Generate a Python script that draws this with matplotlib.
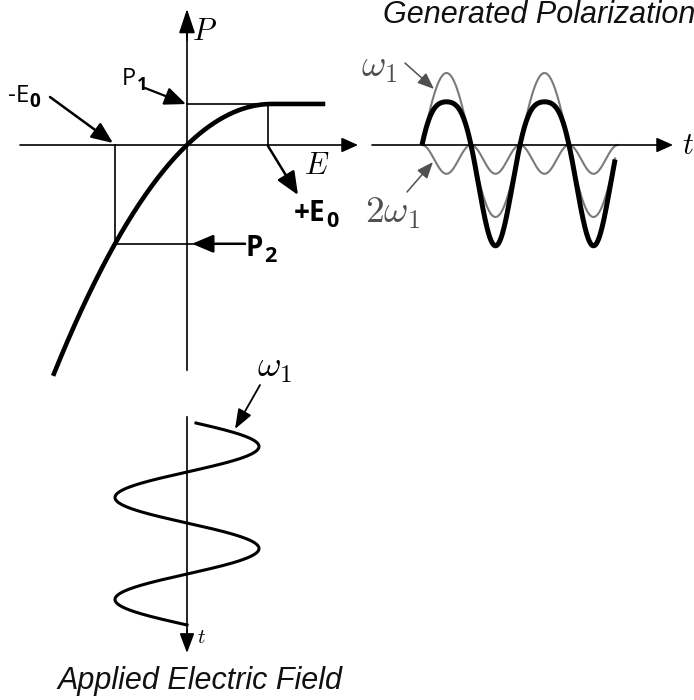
import numpy as np
import matplotlib
matplotlib.use("Agg")
import matplotlib.pyplot as plt

plt.rcParams["mathtext.fontset"] = "cm"

# ---- physics of the sketch (normalised units: 1 = field amplitude E0) ----
E0 = 1.0                      # applied field amplitude
E_NEG, E_POS = -1.0, 1.125    # field extremes marked on the transfer curve
E_SAT = 1.18                  # field where the polarisation saturates
P_SAT = 0.57                  # saturated polarisation
CURV = 0.4086                 # curvature of the P(E) response below saturation
E_RANGE = [-1.86, 1.92]       # span of the drawn transfer curve

W1_AMP = 1.0                  # first-harmonic component of P(t)
W2_DEPTH = 0.40               # depth of the second-harmonic (DC-shifted) component
PERIODS_THIN = 2.0            # periods drawn for the components
PERIODS_SUM = 1.97            # periods drawn for the total polarisation
FIELD_PHASE = [0.02, 2.0]     # start/end phase (in periods) of the applied field trace

# ---- layout (pixels) ----
UNIT = 72.0                   # pixels per normalised unit
ORIGIN = (187, 145)           # E-P origin
POL_ORIGIN = (422, 145)       # start of generated polarisation trace
POL_PERIOD = 98.0
FIELD_ORIGIN = (187, 421)     # applied field trace axis
FIELD_PERIOD = 102.0

fig = plt.figure(figsize=(6.94, 7.0), dpi=100)
ax = fig.add_axes([0, 0, 1, 1])
ax.set_xlim(0, 694)
ax.set_ylim(700, 0)
ax.axis("off")
renderer = fig.canvas.get_renderer()

ox, oy = ORIGIN


def px(e, p):
    return ox + e * UNIT, oy - p * UNIT


def response(e):
    e = np.asarray(e, dtype=float)
    return np.where(e < E_SAT, P_SAT - CURV * (e - E_SAT) ** 2, P_SAT)


def arrow(x0, y0, x1, y1, color="black", lw=1.8, hl=0.9, hw=0.45, ms=10):
    ax.annotate("", xy=(x1, y1), xytext=(x0, y0),
                arrowprops=dict(arrowstyle=f"-|>,head_length={hl},head_width={hw}",
                                color=color, lw=lw, mutation_scale=ms,
                                shrinkA=0, shrinkB=0))


def sub_label(x, y, main, sub, size, weight="normal", sub_weight="bold"):
    """Letter(s) with a subscript, baseline of the main part at (x, y) in pixels."""
    t = ax.text(x, y, main, family="Open Sans", fontsize=size, fontweight=weight,
                va="baseline", ha="left", color="black")
    bb = t.get_window_extent(renderer)
    x_end = ax.transData.inverted().transform((bb.x1, bb.y0))[0]
    ax.text(x_end + 0.5, y + size * 0.28, sub, family="Open Sans", fontsize=size * 0.78,
            fontweight=sub_weight, va="baseline", ha="left", color="black")


# ---- E-P transfer curve panel ----
arrow(20, oy, 358, oy, lw=1.2, hl=1.0, hw=0.45)
ax.plot([ox, ox], [370, 25], color="black", lw=1.2)
arrow(ox, 40, ox, 9, lw=1.2, hl=1.5, hw=0.5)

e = np.linspace(E_RANGE[0], E_RANGE[1], 400)
x, y = px(e, response(e))
ax.plot(x, y, color="black", lw=3.3, solid_capstyle="butt")

p_pos = float(response(E_POS))
p_neg = float(response(E_NEG))
xp, yp = px(E_POS, p_pos)
xn, yn = px(E_NEG, p_neg)
ax.plot([ox, xp], [yp, yp], color="black", lw=1.2)
ax.plot([xp, xp], [yp, oy], color="black", lw=1.2)
ax.plot([xn, xn], [oy, yn], color="black", lw=1.2)
ax.plot([xn, 245], [yn, yn], color="black", lw=1.2)

arrow(50, 97, 113, 143, lw=1.8, hl=1.3, hw=0.55)
arrow(145, 88, 186, yp, lw=1.6, hl=1.3, hw=0.55)
arrow(xp, oy + 1, 298, 195, lw=1.8, hl=1.4, hw=0.6)
arrow(245, yn, 192, yn, lw=1.8, hl=1.3, hw=0.55)

sub_label(122, 85, "P", "1", 17)
sub_label(8, 102, "-E", "0", 17.5)
sub_label(294, 221, "+E", "0", 20, weight="bold")
sub_label(246, 256, "P", "2", 20, weight="bold")

ax.text(205, 31, r"$P$", fontsize=22, ha="center", va="center")
ax.text(317, 165, r"$E$", fontsize=22, ha="center", va="center")

# ---- generated polarisation panel ----
gx, gy = POL_ORIGIN
arrow(372, gy, 673, gy, lw=1.2, hl=1.0, hw=0.45)
ax.text(688, 146, r"$t$", fontsize=22, ha="center", va="center")

ph = np.linspace(0, PERIODS_THIN, 500)
w2 = -W2_DEPTH * np.sin(2 * np.pi * ph) ** 2
ax.plot(gx + ph * POL_PERIOD, gy - w2 * UNIT, color="#7a7a7a", lw=1.5)
ph_s = np.linspace(0, PERIODS_SUM, 500)
w1s = W1_AMP * np.sin(2 * np.pi * ph_s)
ax.plot(gx + ph_s * POL_PERIOD, gy - w1s * UNIT, color="#7a7a7a", lw=1.5)
tot = w1s - W2_DEPTH * np.sin(2 * np.pi * ph_s) ** 2
ax.plot(gx + ph_s * POL_PERIOD, gy - tot * UNIT, color="black", lw=3.6,
        solid_capstyle="butt")

ax.text(379, 67, r"$\omega_1$", fontsize=27, color="#505050", ha="center", va="center")
ax.text(393, 213, r"$2\omega_1$", fontsize=27, color="#505050", ha="center", va="center")
arrow(405, 63, 434, 89, color="#505050", lw=1.1, hl=1.0, hw=0.4, ms=10)
arrow(407, 192, 433, 162, color="#505050", lw=1.1, hl=1.0, hw=0.4, ms=10)

ax.text(383, 15, "Generated Polarization", family="Liberation Sans", style="italic",
        fontsize=22, ha="left", va="center", color="#111111")

# ---- applied field panel ----
fx, fy = FIELD_ORIGIN
ax.plot([fx, fx], [417, 640], color="black", lw=1.2)
arrow(fx, 630, fx, 653, lw=1.2, hl=1.2, hw=0.45, ms=10)
ax.text(201, 637, r"$t$", fontsize=15, ha="center", va="center")

phf = np.linspace(FIELD_PHASE[0], FIELD_PHASE[1], 500)
field = E0 * np.sin(2 * np.pi * phf)
ax.plot(fx + field * UNIT, fy + phf * FIELD_PERIOD, color="black", lw=2.2)

ax.text(275, 368, r"$\omega_1$", fontsize=26, ha="center", va="center")
arrow(260, 385, 235, 429, lw=1.3, hl=1.2, hw=0.45, ms=10)

ax.text(58, 681, "Applied Electric Field", family="Liberation Sans", style="italic",
        fontsize=22, ha="left", va="center", color="#111111")

fig.savefig("out.png", dpi=100)
